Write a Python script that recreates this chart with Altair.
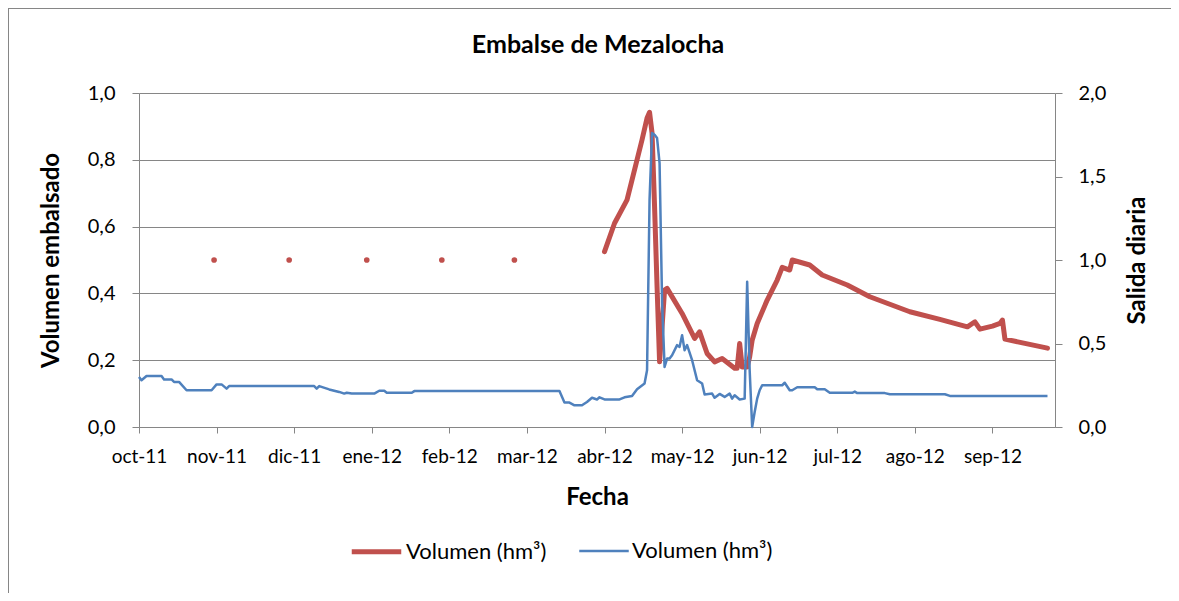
import altair as alt
import pandas as pd

# ---------------- data ----------------
title_text = "Embalse de Mezalocha"
series_keys = ["vol", "sal"]
series_label = "Volumen (hm³)"

# Volumen embalsado (left axis, hm3)
vol_dates = ["2012-04-04", "2012-04-08", "2012-04-13", "2012-04-15", "2012-04-19", "2012-04-21",
             "2012-04-22", "2012-04-23", "2012-04-24", "2012-04-25", "2012-04-26", "2012-04-27",
             "2012-04-28", "2012-04-29", "2012-05-05", "2012-05-10", "2012-05-12", "2012-05-15",
             "2012-05-18", "2012-05-21", "2012-05-26", "2012-05-27", "2012-05-28", "2012-05-29",
             "2012-05-31", "2012-06-01", "2012-06-02", "2012-06-04", "2012-06-08", "2012-06-12",
             "2012-06-14", "2012-06-17", "2012-06-18", "2012-06-25", "2012-06-30", "2012-07-10",
             "2012-07-19", "2012-08-04", "2012-08-16", "2012-08-27", "2012-08-30", "2012-09-01",
             "2012-09-06", "2012-09-09", "2012-09-10", "2012-09-11", "2012-09-28"]
vol_values = [0.525, 0.61, 0.68, 0.74, 0.86, 0.925,
              0.942, 0.88, 0.66, 0.42, 0.195, 0.30,
              0.41, 0.415, 0.34, 0.265, 0.285, 0.22,
              0.195, 0.205, 0.176, 0.176, 0.25, 0.18,
              0.18, 0.21, 0.26, 0.31, 0.38, 0.44,
              0.478, 0.47, 0.50, 0.485, 0.455, 0.425,
              0.39, 0.345, 0.322, 0.30, 0.315, 0.293,
              0.302, 0.31, 0.32, 0.263, 0.236]

# isolated monthly readings of the same series
dot_dates = ["2011-10-31", "2011-11-30", "2011-12-31", "2012-01-30", "2012-02-28"]
dot_values = [0.5, 0.5, 0.5, 0.5, 0.5]

# Salida diaria (right axis)
sal_dates = ["2011-10-01", "2011-10-02", "2011-10-04", "2011-10-10", "2011-10-11", "2011-10-14",
             "2011-10-15", "2011-10-17", "2011-10-20", "2011-10-30", "2011-11-01", "2011-11-03",
             "2011-11-05", "2011-11-06", "2011-12-10", "2011-12-11", "2011-12-12", "2011-12-16",
             "2011-12-20", "2011-12-22", "2011-12-23", "2011-12-25", "2012-01-03", "2012-01-05",
             "2012-01-07", "2012-01-08", "2012-01-18", "2012-01-19", "2012-03-17", "2012-03-19",
             "2012-03-21", "2012-03-23", "2012-03-26", "2012-03-28", "2012-03-30", "2012-04-01",
             "2012-04-02", "2012-04-04", "2012-04-10", "2012-04-12", "2012-04-15", "2012-04-17",
             "2012-04-20", "2012-04-21", "2012-04-22", "2012-04-23", "2012-04-24", "2012-04-25",
             "2012-04-26", "2012-04-27", "2012-04-28", "2012-04-29", "2012-04-30", "2012-05-01",
             "2012-05-03", "2012-05-04", "2012-05-05", "2012-05-06", "2012-05-07", "2012-05-09",
             "2012-05-11", "2012-05-13", "2012-05-14", "2012-05-17", "2012-05-18", "2012-05-20",
             "2012-05-22", "2012-05-24", "2012-05-25", "2012-05-26", "2012-05-28", "2012-05-30",
             "2012-05-31", "2012-06-01", "2012-06-02", "2012-06-03", "2012-06-04", "2012-06-05",
             "2012-06-06", "2012-06-14", "2012-06-15", "2012-06-17", "2012-06-18", "2012-06-20",
             "2012-06-27", "2012-06-28", "2012-07-01", "2012-07-03", "2012-07-12", "2012-07-13",
             "2012-07-14", "2012-07-25", "2012-07-27", "2012-08-18", "2012-08-20", "2012-09-28"]
sal_values = [0.30, 0.28, 0.305, 0.305, 0.285, 0.285,
              0.27, 0.27, 0.22, 0.22, 0.255, 0.255,
              0.23, 0.245, 0.245, 0.23, 0.245, 0.225,
              0.21, 0.20, 0.205, 0.20, 0.20, 0.217,
              0.217, 0.205, 0.205, 0.215, 0.215, 0.146,
              0.146, 0.13, 0.13, 0.15, 0.175, 0.165,
              0.178, 0.165, 0.165, 0.178, 0.186, 0.226,
              0.26, 0.34, 1.36, 1.76, 1.75, 1.73,
              1.58, 0.75, 0.36, 0.41, 0.41, 0.43,
              0.49, 0.48, 0.55, 0.46, 0.49, 0.40,
              0.28, 0.26, 0.195, 0.20, 0.175, 0.198,
              0.18, 0.20, 0.17, 0.19, 0.165, 0.17,
              0.87, 0.34, 0.0, 0.09, 0.17, 0.22,
              0.25, 0.25, 0.265, 0.22, 0.22, 0.238,
              0.238, 0.226, 0.226, 0.205, 0.205, 0.212,
              0.203, 0.203, 0.196, 0.196, 0.186, 0.186]

# axis
x_domain = ["2011-10-01", "2012-10-01"]
tick_dates = ["2011-10-01", "2011-11-01", "2011-12-02", "2012-01-02", "2012-02-02", "2012-03-04",
              "2012-04-04", "2012-05-05", "2012-06-05", "2012-07-06", "2012-08-06", "2012-09-06"]
month_abbr = ["ene", "feb", "mar", "abr", "may", "jun", "jul", "ago", "sep", "oct", "nov", "dic"]
left_ticks = [0.0, 0.2, 0.4, 0.6, 0.8, 1.0]
right_ticks = [0.0, 0.5, 1.0, 1.5, 2.0]

# ---------------- style ----------------
RED = "#C0504D"
BLUE = "#4F81BD"
GREY = "#868686"
FONT = "Lato"


def ms(d):
    return int(pd.Timestamp(d, tz="UTC").value // 10**6)


vol_df = pd.DataFrame({"fecha": vol_dates, "valor": vol_values, "serie": "vol"})
dot_df = pd.DataFrame({"fecha": dot_dates, "valor": dot_values})
sal_df = pd.DataFrame({"fecha": sal_dates, "valor": sal_values, "serie": "sal"})

month_js = "[" + ",".join(f"'{m}'" for m in month_abbr) + "]"
num_expr = "replace(format(datum.value, '.1f'), '.', ',')"

x_enc = alt.X(
    "fecha:T",
    scale=alt.Scale(type="utc", domain=[ms(d) for d in x_domain]),
    axis=alt.Axis(
        values=[ms(d) for d in tick_dates],
        labelExpr=month_js + "[utcmonth(datum.value)] + '-' + utcFormat(datum.value, '%y')",
        title="Fecha", titleFont=FONT, titleFontSize=24, titleFontWeight="bold", titleColor="black",
        titlePadding=19,
        labelFont=FONT, labelFontSize=19, labelColor="black", labelPadding=14,
        tickSize=6, tickColor=GREY, domainColor=GREY, grid=False, labelOverlap=False,
        labelFlush=False,
    ),
)

left_axis = alt.Axis(
    values=left_ticks, labelExpr=num_expr, title="Volumen embalsado",
    titleFont=FONT, titleFontSize=24, titleFontWeight="bold", titleColor="black",
    titleX=-81, titleY=167, titleAngle=270, titleBaseline="alphabetic", titleAlign="center",
    labelFont=FONT, labelFontSize=20, labelColor="black", labelPadding=17,
    tickSize=7, tickColor=GREY, domainColor=GREY,
    grid=True, gridColor=GREY, gridWidth=1,
)
right_axis = alt.Axis(
    orient="right", values=right_ticks, labelExpr=num_expr, title="Salida diaria",
    titleFont=FONT, titleFontSize=24, titleFontWeight="bold", titleColor="black",
    titleX=89, titleY=167, titleAngle=270, titleBaseline="alphabetic", titleAlign="center",
    labelFont=FONT, labelFontSize=20, labelColor="black", labelPadding=16,
    tickSize=7, tickColor=GREY, domainColor=GREY, grid=False,
)

legend = alt.Legend(
    orient="none", legendX=210, legendY=431, direction="horizontal", title=None,
    labelExpr=f"'{series_label}'", labelFont=FONT, labelFontSize=22, labelColor="black",
    symbolType="stroke", symbolSize=2450, columnPadding=27, labelOffset=2, padding=0,
)
color_enc = alt.Color("serie:N", scale=alt.Scale(domain=series_keys, range=[RED, BLUE]), legend=legend)
width_enc = alt.StrokeWidth("serie:N", scale=alt.Scale(domain=series_keys, range=[5, 2.5]), legend=legend)

y_left = alt.Y("valor:Q", scale=alt.Scale(domain=[0, 1], nice=False), axis=left_axis)
y_right = alt.Y("valor:Q", scale=alt.Scale(domain=[0, 2], nice=False), axis=right_axis)

red_line = alt.Chart(vol_df).mark_line(strokeCap="round", strokeJoin="round").encode(
    x=x_enc, y=y_left, color=color_enc, strokeWidth=width_enc
)
red_dots = alt.Chart(dot_df).mark_circle(size=32, opacity=1, color=RED).encode(x=x_enc, y=y_left)
left_group = alt.layer(red_line, red_dots)

blue_line = alt.Chart(sal_df).mark_line(strokeJoin="round").encode(
    x=x_enc, y=y_right, color=color_enc, strokeWidth=width_enc
)

frame_df = pd.DataFrame({"k": [0]})
left_border = alt.Chart(frame_df).mark_rule(color=GREY, strokeWidth=1).encode(
    x=alt.value(-130.5), y=alt.value(-85), y2=alt.value(500)
)
top_border = alt.Chart(frame_df).mark_rule(color=GREY, strokeWidth=1).encode(
    x=alt.value(-131), x2=alt.value(1032), y=alt.value(-84.5)
)
title_df = pd.DataFrame({"t": [title_text]})
title_mark = alt.Chart(title_df).mark_text(
    font=FONT, fontSize=25, fontWeight="bold", align="center", baseline="alphabetic", color="black"
).encode(text="t:N", x=alt.value(459), y=alt.value(-40))

chart = (
    alt.layer(left_group, blue_line, left_border, top_border, title_mark)
    .resolve_scale(y="independent")
    .properties(
        width=916, height=334,
        autosize=alt.AutoSizeParams(type="none"),
        padding={"left": 131, "top": 85, "right": 116, "bottom": 166},
        background="white",
    )
    .configure_view(stroke=None)
)

chart.save("out.html", embed_options={"renderer": "svg", "actions": False})
